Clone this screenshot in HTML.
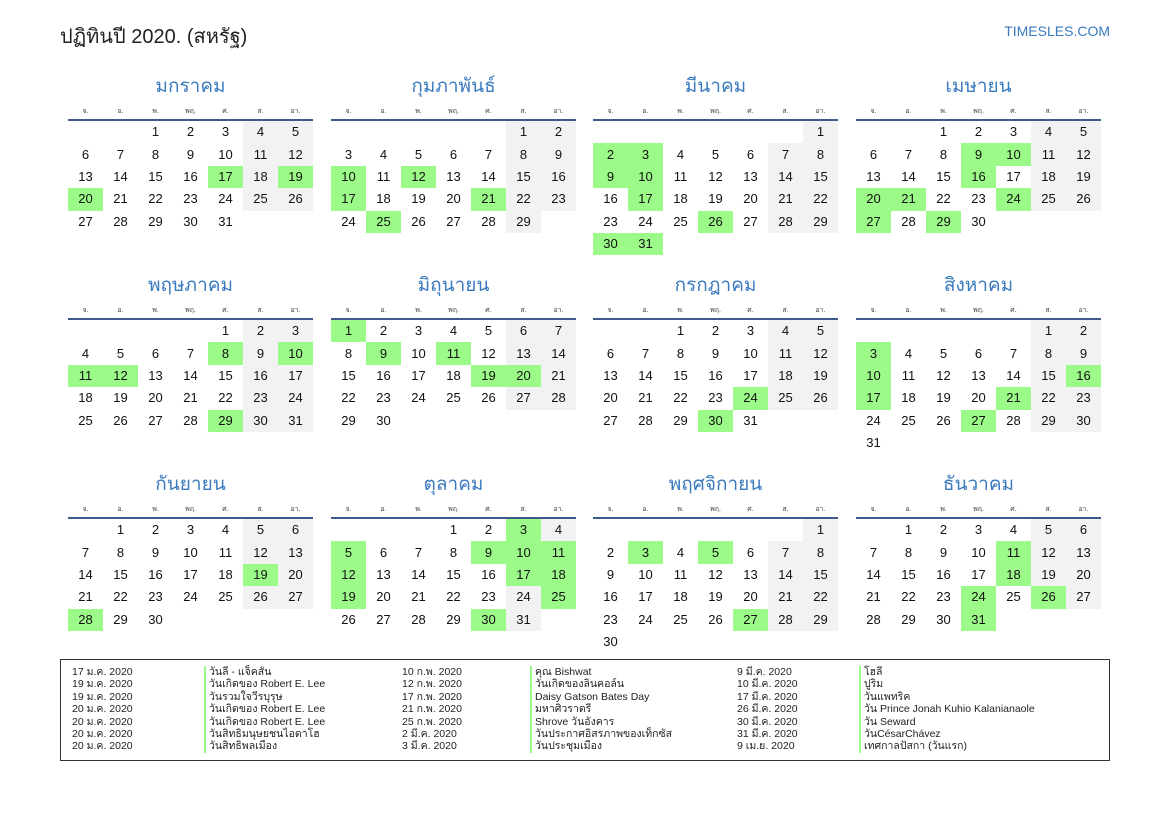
<!DOCTYPE html>
<html><head><meta charset="utf-8"><style>
body{margin:0;width:1169px;height:827px;background:#fff;position:relative;font-family:"Liberation Sans","Noto Sans CJK SC",sans-serif;color:#111;overflow:hidden}
.h{position:absolute;left:60px;top:20px;font-size:20px;color:#222}
.site{position:absolute;right:59px;top:23px;font-size:14px;color:#3a7abf}
.m{position:absolute;width:245px}
.t{position:absolute;top:3px;left:0;width:245px;text-align:center;font-size:19px;line-height:24px;color:#3a7abf}
.wd{position:absolute;top:34px;left:0;display:flex;width:245px}
.wd span{width:35px;text-align:center;font-size:7px;color:#444}
.ln{position:absolute;top:47px;left:0;width:245px;height:2px;background:#3d5a8a}
table{position:absolute;top:49px;left:0;border-collapse:collapse;table-layout:fixed;width:245px}
td{width:35px;height:22.4px;padding:0;text-align:center;font-size:13px;line-height:22px}
.w{background:#f2f2f2}.g{background:#9cfa88}
.ft{position:absolute;left:60px;top:659px;width:1048px;height:100px;border:1.5px solid #333}
.c{position:absolute;top:6px;font-size:10.5px;line-height:12.4px;color:#222;white-space:nowrap}
.b{border-left:2.5px solid #9cfa88;padding-left:3px}
</style></head><body>
<div class="h">ปฏิทินปี 2020. (สหรัฐ)</div>
<div class="site">TIMESLES.COM</div>

<div class="m" style="left:68px;top:72px"><div class="t">มกราคม</div><div class="wd"><span>จ.</span><span>อ.</span><span>พ.</span><span>พฤ.</span><span>ศ.</span><span>ส.</span><span>อา.</span></div><div class="ln"></div>
<table><tr><td></td><td></td><td>1</td><td>2</td><td>3</td><td class="w">4</td><td class="w">5</td></tr>
<tr><td>6</td><td>7</td><td>8</td><td>9</td><td>10</td><td class="w">11</td><td class="w">12</td></tr>
<tr><td>13</td><td>14</td><td>15</td><td>16</td><td class="g">17</td><td class="w">18</td><td class="g">19</td></tr>
<tr><td class="g">20</td><td>21</td><td>22</td><td>23</td><td>24</td><td class="w">25</td><td class="w">26</td></tr>
<tr><td>27</td><td>28</td><td>29</td><td>30</td><td>31</td><td></td><td></td></tr></table></div>

<div class="m" style="left:331px;top:72px"><div class="t">กุมภาพันธ์</div><div class="wd"><span>จ.</span><span>อ.</span><span>พ.</span><span>พฤ.</span><span>ศ.</span><span>ส.</span><span>อา.</span></div><div class="ln"></div>
<table><tr><td></td><td></td><td></td><td></td><td></td><td class="w">1</td><td class="w">2</td></tr>
<tr><td>3</td><td>4</td><td>5</td><td>6</td><td>7</td><td class="w">8</td><td class="w">9</td></tr>
<tr><td class="g">10</td><td>11</td><td class="g">12</td><td>13</td><td>14</td><td class="w">15</td><td class="w">16</td></tr>
<tr><td class="g">17</td><td>18</td><td>19</td><td>20</td><td class="g">21</td><td class="w">22</td><td class="w">23</td></tr>
<tr><td>24</td><td class="g">25</td><td>26</td><td>27</td><td>28</td><td class="w">29</td><td></td></tr></table></div>

<div class="m" style="left:593px;top:72px"><div class="t">มีนาคม</div><div class="wd"><span>จ.</span><span>อ.</span><span>พ.</span><span>พฤ.</span><span>ศ.</span><span>ส.</span><span>อา.</span></div><div class="ln"></div>
<table><tr><td></td><td></td><td></td><td></td><td></td><td></td><td class="w">1</td></tr>
<tr><td class="g">2</td><td class="g">3</td><td>4</td><td>5</td><td>6</td><td class="w">7</td><td class="w">8</td></tr>
<tr><td class="g">9</td><td class="g">10</td><td>11</td><td>12</td><td>13</td><td class="w">14</td><td class="w">15</td></tr>
<tr><td>16</td><td class="g">17</td><td>18</td><td>19</td><td>20</td><td class="w">21</td><td class="w">22</td></tr>
<tr><td>23</td><td>24</td><td>25</td><td class="g">26</td><td>27</td><td class="w">28</td><td class="w">29</td></tr>
<tr><td class="g">30</td><td class="g">31</td><td></td><td></td><td></td><td></td><td></td></tr></table></div>

<div class="m" style="left:856px;top:72px"><div class="t">เมษายน</div><div class="wd"><span>จ.</span><span>อ.</span><span>พ.</span><span>พฤ.</span><span>ศ.</span><span>ส.</span><span>อา.</span></div><div class="ln"></div>
<table><tr><td></td><td></td><td>1</td><td>2</td><td>3</td><td class="w">4</td><td class="w">5</td></tr>
<tr><td>6</td><td>7</td><td>8</td><td class="g">9</td><td class="g">10</td><td class="w">11</td><td class="w">12</td></tr>
<tr><td>13</td><td>14</td><td>15</td><td class="g">16</td><td>17</td><td class="w">18</td><td class="w">19</td></tr>
<tr><td class="g">20</td><td class="g">21</td><td>22</td><td>23</td><td class="g">24</td><td class="w">25</td><td class="w">26</td></tr>
<tr><td class="g">27</td><td>28</td><td class="g">29</td><td>30</td><td></td><td></td><td></td></tr></table></div>

<div class="m" style="left:68px;top:271px"><div class="t">พฤษภาคม</div><div class="wd"><span>จ.</span><span>อ.</span><span>พ.</span><span>พฤ.</span><span>ศ.</span><span>ส.</span><span>อา.</span></div><div class="ln"></div>
<table><tr><td></td><td></td><td></td><td></td><td>1</td><td class="w">2</td><td class="w">3</td></tr>
<tr><td>4</td><td>5</td><td>6</td><td>7</td><td class="g">8</td><td class="w">9</td><td class="g">10</td></tr>
<tr><td class="g">11</td><td class="g">12</td><td>13</td><td>14</td><td>15</td><td class="w">16</td><td class="w">17</td></tr>
<tr><td>18</td><td>19</td><td>20</td><td>21</td><td>22</td><td class="w">23</td><td class="w">24</td></tr>
<tr><td>25</td><td>26</td><td>27</td><td>28</td><td class="g">29</td><td class="w">30</td><td class="w">31</td></tr></table></div>

<div class="m" style="left:331px;top:271px"><div class="t">มิถุนายน</div><div class="wd"><span>จ.</span><span>อ.</span><span>พ.</span><span>พฤ.</span><span>ศ.</span><span>ส.</span><span>อา.</span></div><div class="ln"></div>
<table><tr><td class="g">1</td><td>2</td><td>3</td><td>4</td><td>5</td><td class="w">6</td><td class="w">7</td></tr>
<tr><td>8</td><td class="g">9</td><td>10</td><td class="g">11</td><td>12</td><td class="w">13</td><td class="w">14</td></tr>
<tr><td>15</td><td>16</td><td>17</td><td>18</td><td class="g">19</td><td class="g">20</td><td class="w">21</td></tr>
<tr><td>22</td><td>23</td><td>24</td><td>25</td><td>26</td><td class="w">27</td><td class="w">28</td></tr>
<tr><td>29</td><td>30</td><td></td><td></td><td></td><td></td><td></td></tr></table></div>

<div class="m" style="left:593px;top:271px"><div class="t">กรกฎาคม</div><div class="wd"><span>จ.</span><span>อ.</span><span>พ.</span><span>พฤ.</span><span>ศ.</span><span>ส.</span><span>อา.</span></div><div class="ln"></div>
<table><tr><td></td><td></td><td>1</td><td>2</td><td>3</td><td class="w">4</td><td class="w">5</td></tr>
<tr><td>6</td><td>7</td><td>8</td><td>9</td><td>10</td><td class="w">11</td><td class="w">12</td></tr>
<tr><td>13</td><td>14</td><td>15</td><td>16</td><td>17</td><td class="w">18</td><td class="w">19</td></tr>
<tr><td>20</td><td>21</td><td>22</td><td>23</td><td class="g">24</td><td class="w">25</td><td class="w">26</td></tr>
<tr><td>27</td><td>28</td><td>29</td><td class="g">30</td><td>31</td><td></td><td></td></tr></table></div>

<div class="m" style="left:856px;top:271px"><div class="t">สิงหาคม</div><div class="wd"><span>จ.</span><span>อ.</span><span>พ.</span><span>พฤ.</span><span>ศ.</span><span>ส.</span><span>อา.</span></div><div class="ln"></div>
<table><tr><td></td><td></td><td></td><td></td><td></td><td class="w">1</td><td class="w">2</td></tr>
<tr><td class="g">3</td><td>4</td><td>5</td><td>6</td><td>7</td><td class="w">8</td><td class="w">9</td></tr>
<tr><td class="g">10</td><td>11</td><td>12</td><td>13</td><td>14</td><td class="w">15</td><td class="g">16</td></tr>
<tr><td class="g">17</td><td>18</td><td>19</td><td>20</td><td class="g">21</td><td class="w">22</td><td class="w">23</td></tr>
<tr><td>24</td><td>25</td><td>26</td><td class="g">27</td><td>28</td><td class="w">29</td><td class="w">30</td></tr>
<tr><td>31</td><td></td><td></td><td></td><td></td><td></td><td></td></tr></table></div>

<div class="m" style="left:68px;top:470px"><div class="t">กันยายน</div><div class="wd"><span>จ.</span><span>อ.</span><span>พ.</span><span>พฤ.</span><span>ศ.</span><span>ส.</span><span>อา.</span></div><div class="ln"></div>
<table><tr><td></td><td>1</td><td>2</td><td>3</td><td>4</td><td class="w">5</td><td class="w">6</td></tr>
<tr><td>7</td><td>8</td><td>9</td><td>10</td><td>11</td><td class="w">12</td><td class="w">13</td></tr>
<tr><td>14</td><td>15</td><td>16</td><td>17</td><td>18</td><td class="g">19</td><td class="w">20</td></tr>
<tr><td>21</td><td>22</td><td>23</td><td>24</td><td>25</td><td class="w">26</td><td class="w">27</td></tr>
<tr><td class="g">28</td><td>29</td><td>30</td><td></td><td></td><td></td><td></td></tr></table></div>

<div class="m" style="left:331px;top:470px"><div class="t">ตุลาคม</div><div class="wd"><span>จ.</span><span>อ.</span><span>พ.</span><span>พฤ.</span><span>ศ.</span><span>ส.</span><span>อา.</span></div><div class="ln"></div>
<table><tr><td></td><td></td><td></td><td>1</td><td>2</td><td class="g">3</td><td class="w">4</td></tr>
<tr><td class="g">5</td><td>6</td><td>7</td><td>8</td><td class="g">9</td><td class="g">10</td><td class="g">11</td></tr>
<tr><td class="g">12</td><td>13</td><td>14</td><td>15</td><td>16</td><td class="g">17</td><td class="g">18</td></tr>
<tr><td class="g">19</td><td>20</td><td>21</td><td>22</td><td>23</td><td class="w">24</td><td class="g">25</td></tr>
<tr><td>26</td><td>27</td><td>28</td><td>29</td><td class="g">30</td><td class="w">31</td><td></td></tr></table></div>

<div class="m" style="left:593px;top:470px"><div class="t">พฤศจิกายน</div><div class="wd"><span>จ.</span><span>อ.</span><span>พ.</span><span>พฤ.</span><span>ศ.</span><span>ส.</span><span>อา.</span></div><div class="ln"></div>
<table><tr><td></td><td></td><td></td><td></td><td></td><td></td><td class="w">1</td></tr>
<tr><td>2</td><td class="g">3</td><td>4</td><td class="g">5</td><td>6</td><td class="w">7</td><td class="w">8</td></tr>
<tr><td>9</td><td>10</td><td>11</td><td>12</td><td>13</td><td class="w">14</td><td class="w">15</td></tr>
<tr><td>16</td><td>17</td><td>18</td><td>19</td><td>20</td><td class="w">21</td><td class="w">22</td></tr>
<tr><td>23</td><td>24</td><td>25</td><td>26</td><td class="g">27</td><td class="w">28</td><td class="w">29</td></tr>
<tr><td>30</td><td></td><td></td><td></td><td></td><td></td><td></td></tr></table></div>

<div class="m" style="left:856px;top:470px"><div class="t">ธันวาคม</div><div class="wd"><span>จ.</span><span>อ.</span><span>พ.</span><span>พฤ.</span><span>ศ.</span><span>ส.</span><span>อา.</span></div><div class="ln"></div>
<table><tr><td></td><td>1</td><td>2</td><td>3</td><td>4</td><td class="w">5</td><td class="w">6</td></tr>
<tr><td>7</td><td>8</td><td>9</td><td>10</td><td class="g">11</td><td class="w">12</td><td class="w">13</td></tr>
<tr><td>14</td><td>15</td><td>16</td><td>17</td><td class="g">18</td><td class="w">19</td><td class="w">20</td></tr>
<tr><td>21</td><td>22</td><td>23</td><td class="g">24</td><td>25</td><td class="g">26</td><td class="w">27</td></tr>
<tr><td>28</td><td>29</td><td>30</td><td class="g">31</td><td></td><td></td><td></td></tr></table></div>

<div class="ft">
<div class="c" style="left:11px">17 ม.ค. 2020<br>19 ม.ค. 2020<br>19 ม.ค. 2020<br>20 ม.ค. 2020<br>20 ม.ค. 2020<br>20 ม.ค. 2020<br>20 ม.ค. 2020</div>
<div class="c" style="left:143px"><div class="b">วันลี - แจ็คสัน</div><div class="b">วันเกิดของ Robert E. Lee</div><div class="b">วันรวมใจวีรบุรุษ</div><div class="b">วันเกิดของ Robert E. Lee</div><div class="b">วันเกิดของ Robert E. Lee</div><div class="b">วันสิทธิมนุษยชนไอดาโฮ</div><div class="b">วันสิทธิพลเมือง</div></div>
<div class="c" style="left:341px">10 ก.พ. 2020<br>12 ก.พ. 2020<br>17 ก.พ. 2020<br>21 ก.พ. 2020<br>25 ก.พ. 2020<br>2 มี.ค. 2020<br>3 มี.ค. 2020</div>
<div class="c" style="left:469px"><div class="b">คุณ Bishwat</div><div class="b">วันเกิดของลินคอล์น</div><div class="b">Daisy Gatson Bates Day</div><div class="b">มหาศิวราตรี</div><div class="b">Shrove วันอังคาร</div><div class="b">วันประกาศอิสรภาพของเท็กซัส</div><div class="b">วันประชุมเมือง</div></div>
<div class="c" style="left:676px">9 มี.ค. 2020<br>10 มี.ค. 2020<br>17 มี.ค. 2020<br>26 มี.ค. 2020<br>30 มี.ค. 2020<br>31 มี.ค. 2020<br>9 เม.ย. 2020</div>
<div class="c" style="left:798px"><div class="b">โฮลี</div><div class="b">ปูริม</div><div class="b">วันแพทริค</div><div class="b">วัน Prince Jonah Kuhio Kalanianaole</div><div class="b">วัน Seward</div><div class="b">วันCésarChávez</div><div class="b">เทศกาลปัสกา (วันแรก)</div></div>
</div>
</body></html>
